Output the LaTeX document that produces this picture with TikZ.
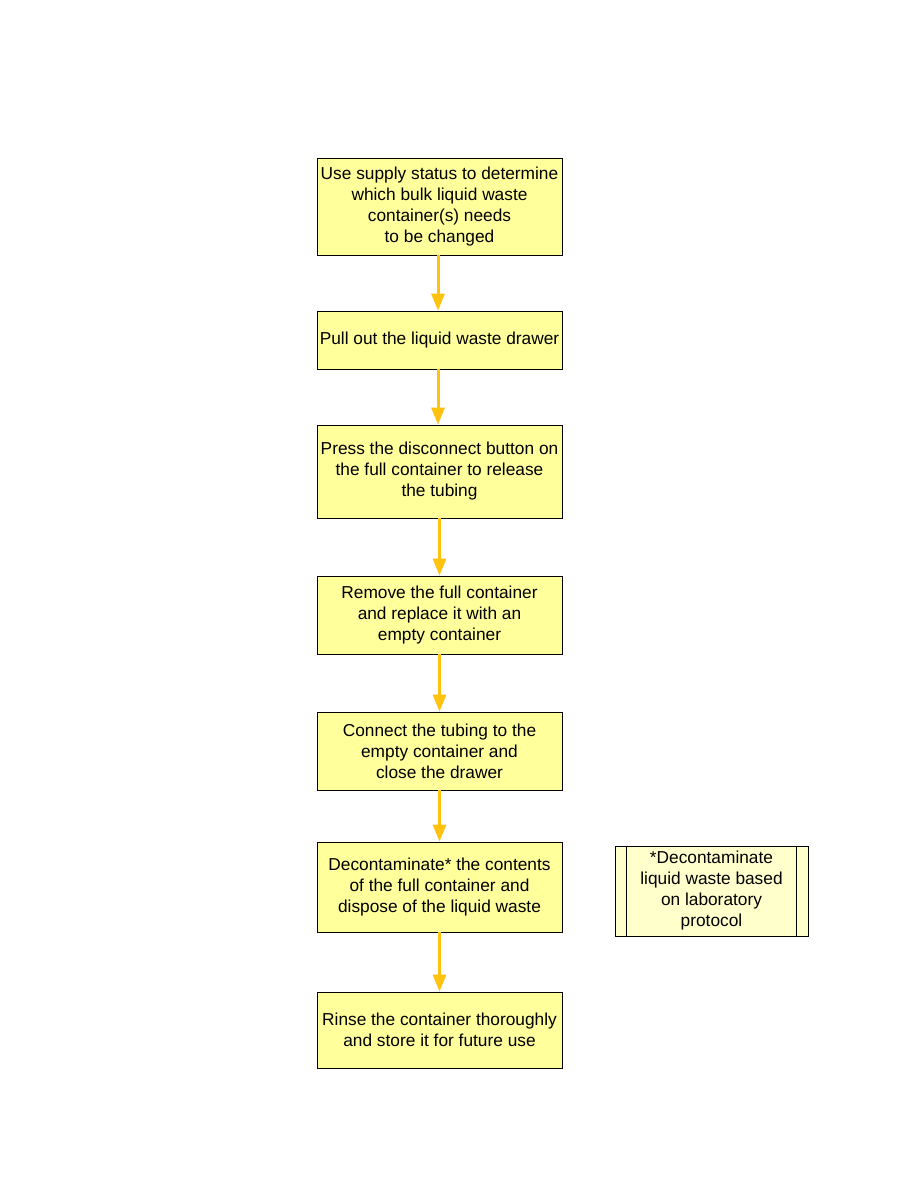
\documentclass[tikz,border=0pt]{standalone}
\usepackage{fontspec}
\setmainfont{Liberation Sans}
\usetikzlibrary{arrows.meta}
\definecolor{boxfill}{HTML}{FFFF9C}
\definecolor{notefill}{HTML}{FFFFCC}
\definecolor{arrowcol}{HTML}{FFC20E}
\tikzset{
  txt/.style={font=\fontsize{17.3}{21}\selectfont},
  stepbox/.style={draw=black, line width=0.8pt, fill=boxfill, minimum width=245pt, align=center, inner sep=2pt, txt},
  notebox/.style={draw=black, line width=0.8pt, fill=notefill, minimum width=193pt, minimum height=90pt, align=center, inner sep=2pt, txt},
  flow/.style={draw=arrowcol, line width=3pt, -{Triangle[width=13pt,length=17pt]}},
}
\begin{document}
\begin{tikzpicture}[x=1pt,y=1pt]
\useasboundingbox (0,0) rectangle (918,-1188);
\node[stepbox, minimum height=97pt] (s1) at (439.5,-206.5) {Use supply status to determine\\which bulk liquid waste\\container(s) needs\\to be changed};
\node[stepbox, minimum height=58pt] (s2) at (439.5,-340) {Pull out the liquid waste drawer};
\node[stepbox, minimum height=93pt] (s3) at (439.5,-471.5) {Press the disconnect button on\\the full container to release\\the tubing};
\node[stepbox, minimum height=78pt] (s4) at (439.5,-615) {Remove the full container\\and replace it with an\\empty container};
\node[stepbox, minimum height=78pt] (s5) at (439.5,-751) {Connect the tubing to the\\empty container and\\close the drawer};
\node[stepbox, minimum height=90pt] (s6) at (439.5,-887) {Decontaminate* the contents\\of the full container and\\dispose of the liquid waste};
\node[stepbox, minimum height=76pt] (s7) at (439.5,-1030) {Rinse the container thoroughly\\and store it for future use};
\node[notebox] (note) at (711.5,-891) {*Decontaminate\\liquid waste based\\on laboratory\\protocol};
\draw[line width=0.8pt] ([xshift=12pt]note.north west) -- ([xshift=12pt]note.south west);
\draw[line width=0.8pt] ([xshift=-12pt]note.north east) -- ([xshift=-12pt]note.south east);
\draw[flow] ([xshift=-1.5pt]s1.south) -- ([xshift=-1.5pt]s2.north);
\draw[flow] ([xshift=-1.5pt]s2.south) -- ([xshift=-1.5pt]s3.north);
\foreach \a/\b in {s3/s4,s4/s5,s5/s6,s6/s7}
  \draw[flow] (\a.south) -- (\b.north);
\end{tikzpicture}
\end{document}
